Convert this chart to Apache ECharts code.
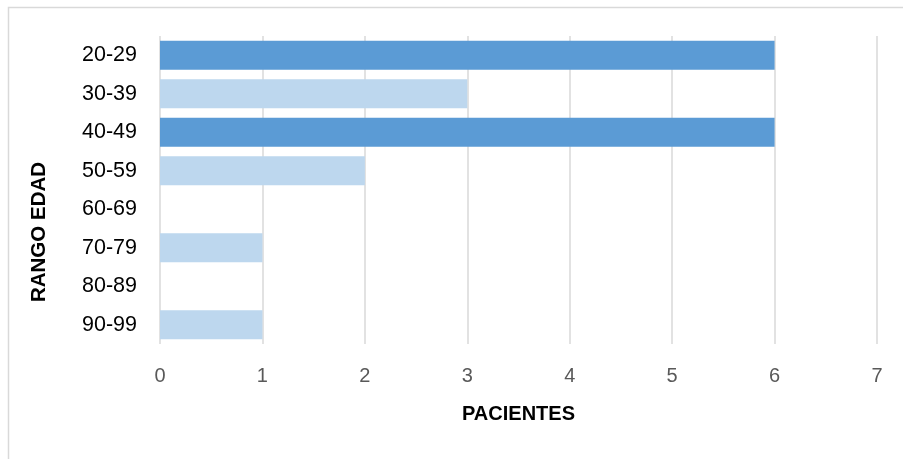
<!DOCTYPE html>
<html>
<head>
<meta charset="utf-8">
<script src="https://cdn.jsdelivr.net/npm/echarts@6/dist/echarts.min.js"></script>
<style>html,body{margin:0;padding:0;background:#fff;}#c{width:903px;height:459px;}</style>
</head>
<body>
<div id="c"></div>
<script>
const categories = ['20-29','30-39','40-49','50-59','60-69','70-79','80-89','90-99'];
const pacientes = [6, 3, 6, 2, 0, 1, 0, 1];
const xTicks = [0, 1, 2, 3, 4, 5, 6, 7];
const xTitle = 'PACIENTES';
const yTitle = 'RANGO EDAD';
const darkColor = '#5B9BD5';
const lightColor = '#BDD7EE';
const maxVal = Math.max.apply(null, pacientes);

const chart = echarts.init(document.getElementById('c'), null, {renderer: 'canvas'});
chart.setOption({
  animation: false,
  backgroundColor: '#fff',
  grid: {left: 160, right: 26, top: 36, bottom: 115},
  graphic: [{
    type: 'rect',
    shape: {x: 8.5, y: 7.5, width: 1000, height: 1000},
    style: {fill: 'none', stroke: '#d9d9d9', lineWidth: 1.5},
    silent: true, z: -1
  }, {
    type: 'text', x: 39, y: 232, rotation: Math.PI / 2,
    style: {text: yTitle, fill: '#000', font: 'bold 20.5px "Liberation Sans"', textAlign: 'center', textVerticalAlign: 'middle'},
    silent: true
  }],
  xAxis: {
    type: 'value', min: xTicks[0], max: xTicks[xTicks.length - 1], interval: 1,
    axisLine: {show: false}, axisTick: {show: false},
    splitLine: {show: true, lineStyle: {color: '#d9d9d9', width: 1.5}},
    axisLabel: {color: '#595959', fontSize: 20, fontFamily: 'Liberation Sans', margin: 22},
    name: xTitle, nameLocation: 'middle', nameGap: 60,
    nameTextStyle: {color: '#000', fontSize: 20, fontWeight: 'bold', fontFamily: 'Liberation Sans'}
  },
  yAxis: {
    type: 'category', data: categories, inverse: true,
    axisLine: {show: false}, axisTick: {show: false},
    axisLabel: {color: '#000', fontSize: 21.5, fontFamily: 'Liberation Sans', margin: 23}
  },
  series: [{
    type: 'bar', barCategoryGap: '25%',
    data: pacientes.map(v => ({value: v, itemStyle: {color: v === maxVal ? darkColor : lightColor}}))
  }]
});
</script>
</body>
</html>
